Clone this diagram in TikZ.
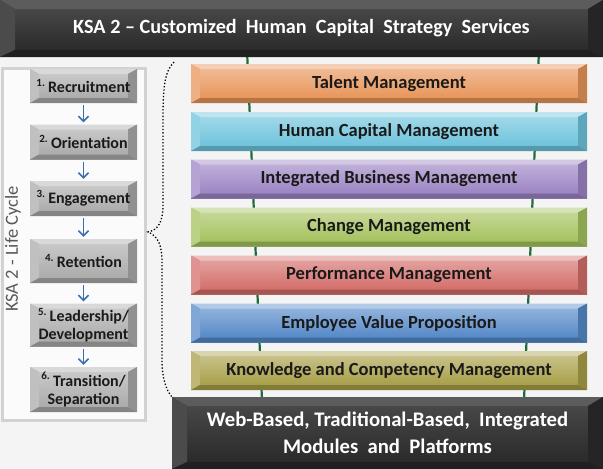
\documentclass[tikz,border=0pt]{standalone}
\usepackage{fontspec}
\setmainfont{Carlito}
\usetikzlibrary{arrows.meta}
\definecolor{bgc}{HTML}{F4F4F4}
\definecolor{panelc}{HTML}{D2D2D2}
\definecolor{talentc}{HTML}{E8955A}
\definecolor{hcc}{HTML}{6EC3DC}
\definecolor{ibc}{HTML}{9C84C4}
\definecolor{chc}{HTML}{A5C25E}
\definecolor{perfc}{HTML}{D46E6A}
\definecolor{evpc}{HTML}{5589C8}
\definecolor{kcc}{HTML}{A89F48}
\definecolor{darkc}{HTML}{2E2E2E}
\definecolor{grayboxc}{HTML}{ABABAB}
\definecolor{arrc}{HTML}{3A6FAF}
\definecolor{rackc}{HTML}{1E6B3C}
\definecolor{txtc}{HTML}{1A1A1A}
\newlength\bvx \newlength\bvy
\setlength\bvx{9pt}\setlength\bvy{5pt}
\tikzset{
  bevel/.style={fill=#1, inner sep=0pt,
    path picture={
      \coordinate (bNW) at (path picture bounding box.north west);
      \coordinate (bNE) at (path picture bounding box.north east);
      \coordinate (bSW) at (path picture bounding box.south west);
      \coordinate (bSE) at (path picture bounding box.south east);
      \coordinate (iNW) at ([xshift=\bvx,yshift=-\bvy]bNW);
      \coordinate (iNE) at ([xshift=-\bvx,yshift=-\bvy]bNE);
      \coordinate (iSW) at ([xshift=\bvx,yshift=\bvy]bSW);
      \coordinate (iSE) at ([xshift=-\bvx,yshift=\bvy]bSE);
      \shade[top color=#1!65!white, bottom color=#1] (iNW) rectangle (iSE);
      \fill[#1!45!white] (bNW)--(bNE)--(iNE)--(iNW)--cycle;
      \fill[#1!75!white] (bNW)--(iNW)--(iSW)--(bSW)--cycle;
      \fill[#1!85!black] (bNE)--(iNE)--(iSE)--(bSE)--cycle;
      \fill[#1!78!black] (bSW)--(iSW)--(iSE)--(bSE)--cycle;
    }},
  darkbevel/.style={fill=darkc, inner sep=0pt, text=white, align=center,
    path picture={
      \coordinate (bNW) at (path picture bounding box.north west);
      \coordinate (bNE) at (path picture bounding box.north east);
      \coordinate (bSW) at (path picture bounding box.south west);
      \coordinate (bSE) at (path picture bounding box.south east);
      \coordinate (iNW) at ([xshift=15pt,yshift=-9pt]bNW);
      \coordinate (iNE) at ([xshift=-15pt,yshift=-9pt]bNE);
      \coordinate (iSW) at ([xshift=15pt,yshift=7pt]bSW);
      \coordinate (iSE) at ([xshift=-15pt,yshift=7pt]bSE);
      \shade[top color=darkc!88!white, bottom color=darkc!92!black] (iNW) rectangle (iSE);
      \fill[darkc!78!white] (bNW)--(bNE)--(iNE)--(iNW)--cycle;
      \fill[darkc!86!white] (bNW)--(iNW)--(iSW)--(bSW)--cycle;
      \fill[darkc!80!black] (bNE)--(iNE)--(iSE)--(bSE)--cycle;
      \fill[darkc!70!black] (bSW)--(iSW)--(iSE)--(bSE)--cycle;
    }},
  barbox/.style={bevel=#1, minimum width=396pt, minimum height=39pt,
    text=txtc, font=\fontsize{18.5}{20}\selectfont\bfseries},
  cyclebox/.style={bevel=grayboxc, minimum width=107pt, text=txtc,
    align=center, font=\fontsize{16}{18}\selectfont\bfseries},
  cyclearrow/.style={draw=arrc, line width=1.6pt,
    -{Straight Barb[length=5pt,width=10pt,line width=1.6pt]}},
  rack/.style={draw=rackc, line width=2.2pt},
  brace/.style={draw=black, line width=1.3pt, dotted},
}
\newcommand\stepnum[1]{\textsuperscript{\fontsize{11}{11}\selectfont #1}\,}
\begin{document}
\begin{tikzpicture}[x=1pt,y=-1pt]
\useasboundingbox (0,0) rectangle (603,469);
\fill[bgc] (0,0) rectangle (603,469);
% rack lines behind the bars
\coordinate (rl1) at (247,50);
\coordinate (rl2) at (262,400);
\coordinate (rr1) at (539,50);
\coordinate (rr2) at (524,400);
\draw[rack] (rl1) -- (rl2);
\draw[rack] (rr1) -- (rr2);
% top bar
\node[darkbevel, minimum width=603pt, minimum height=57pt,
  font=\fontsize{20.2}{22}\selectfont\bfseries] (top) at (301.5,28.5)
  {KSA 2 – Customized\ \ Human\ \ Capital\ \ Strategy\ \ Services};
% bars
\node[barbox=talentc] (b1) at (389,83.5) {Talent Management};
\node[barbox=hcc] (b2) at (389,131.5) {Human Capital Management};
\node[barbox=ibc] (b3) at (389,179) {Integrated Business Management};
\node[barbox=chc] (b4) at (389,227) {Change Management};
\node[barbox=perfc] (b5) at (389,275) {Performance Management};
\node[barbox=evpc] (b6) at (389,323) {Employee Value Proposition};
\node[barbox=kcc] (b7) at (389,370.5) {Knowledge and Competency Management};
% bottom bar
\node[darkbevel, minimum width=431pt, minimum height=72pt,
  font=\fontsize{20.7}{27}\selectfont\bfseries] (bot) at (387.5,433)
  {Web-Based, Traditional-Based,\ \ Integrated\\Modules\ \ and\ \ Platforms};
% left panel
\node[draw=panelc, line width=2.5pt, fill=white!60!bgc, minimum width=143pt,
  minimum height=352pt, inner sep=0pt] (panel) at (74,244.5) {};
\node[rotate=90, text=black!65, font=\fontsize{18.5}{19}\selectfont] (lc) at (13,249)
  {KSA 2 - Life Cycle};
\node[cyclebox, minimum height=34pt] (c1) at (83.5,86)
  {\stepnum{1.}Recruitment};
\node[cyclebox, minimum height=35pt] (c2) at (83.5,142)
  {\stepnum{2.}Orientation};
\node[cyclebox, minimum height=35pt] (c3) at (83.5,198.5)
  {\stepnum{3.}Engagement};
\node[cyclebox, minimum height=44pt] (c4) at (83.5,261)
  {\stepnum{4.}Retention};
\node[cyclebox, minimum height=43pt] (c5) at (83.5,325)
  {\stepnum{5.}Leadership/\\Development};
\node[cyclebox, minimum height=45pt] (c6) at (83.5,389.5)
  {\stepnum{6.}Transition/\\Separation};
\draw[cyclearrow] ([yshift=-2pt]c1.south) -- ([yshift=2pt]c2.north);
\draw[cyclearrow] ([yshift=-2pt]c2.south) -- ([yshift=2pt]c3.north);
\draw[cyclearrow] ([yshift=-2pt]c3.south) -- ([yshift=2pt]c4.north);
\draw[cyclearrow] ([yshift=-2pt]c4.south) -- ([yshift=2pt]c5.north);
\draw[cyclearrow] ([yshift=-2pt]c5.south) -- ([yshift=2pt]c6.north);
% dotted brace
\coordinate (brtop) at (174,62);
\coordinate (brtip) at (148,232);
\coordinate (brbot) at (172,397);
\draw[brace] (brtop) .. controls (164,72) and (163,90) .. (163,120)
  -- (163,205) .. controls (163,222) and (158,230) .. (brtip)
  .. controls (158,236) and (162,245) .. (162,262)
  -- (162,360) .. controls (162,378) and (166,390) .. (brbot);
\end{tikzpicture}
\end{document}
